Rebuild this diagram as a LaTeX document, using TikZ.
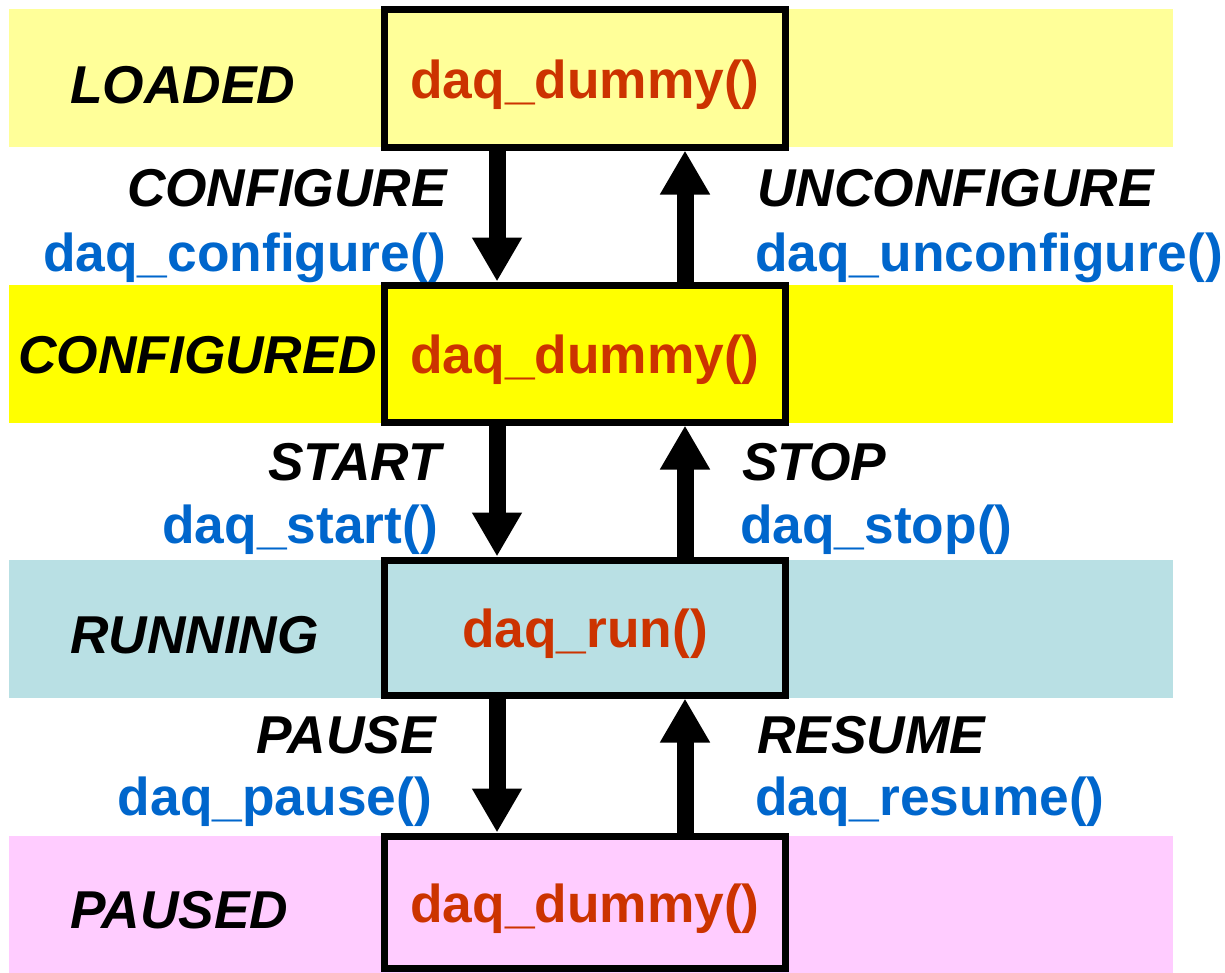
\documentclass[tikz,border=0pt]{standalone}
\usepackage{fontspec}
\setmainfont{Liberation Sans}
\usetikzlibrary{arrows.meta}
\definecolor{bandA}{HTML}{FFFF99}
\definecolor{bandB}{HTML}{FFFF00}
\definecolor{bandC}{HTML}{B9E0E4}
\definecolor{bandD}{HTML}{FFCCFF}
\definecolor{fnred}{HTML}{CC3300}
\definecolor{fnblue}{HTML}{0066CC}
\tikzset{
  big/.style={font=\fontsize{53.3}{60}\selectfont\bfseries},
  statebox/.style={draw=black, line width=7pt, minimum width=401pt, big, text=fnred, inner sep=0pt, text height=40pt, text depth=0pt},
  band/.style={inner sep=0pt, minimum width=1164pt, minimum height=138pt},
  statename/.style={font=\fontsize{53.3}{60}\selectfont\bfseries\itshape, inner sep=0pt},
  evt/.style={font=\fontsize{53.3}{60}\selectfont\bfseries\itshape, inner sep=0pt},
  fn/.style={big, text=fnblue, inner sep=0pt},
  arr/.style={line width=17pt, -{Triangle[width=47pt,length=44pt]}}
}
\begin{document}
\begin{tikzpicture}[x=1pt,y=-1pt]
\useasboundingbox (0,0) rectangle (1225,972);
% bands
\node[band, fill=bandA] (bA) at (591,78) {};
\node[band, fill=bandB] (bB) at (591,353.5) {};
\node[band, fill=bandC] (bC) at (591,629) {};
\node[band, fill=bandD, minimum height=140pt] (bD) at (591,906) {};
% boxes
\node[statebox, fill=bandA, minimum height=138pt] (s1) at (585,78) {daq\_dummy()};
\node[statebox, fill=bandB, minimum height=137pt] (s2) at (585,353.5) {daq\_dummy()};
\node[statebox, fill=bandC, minimum height=135pt] (s3) at (585,627.5) {daq\_run()};
\node[statebox, fill=bandD, minimum height=132pt] (s4) at (585,902) {daq\_dummy()};
% state names
\node[statename, anchor=west] (n1) at (70,85) {LOADED};
\node[statename, anchor=west] (n2) at (18,355) {CONFIGURED};
\node[statename, anchor=west] (n3) at (70,635) {RUNNING};
\node[statename, anchor=west] (n4) at (70,910) {PAUSED};
% arrows
\draw[arr] ([xshift=-88pt]s1.south) -- ([xshift=-88pt]s2.north);
\draw[arr] ([xshift=100pt]s2.north) -- ([xshift=100pt]s1.south);
\draw[arr] ([xshift=-88pt]s2.south) -- ([xshift=-88pt]s3.north);
\draw[arr] ([xshift=100pt]s3.north) -- ([xshift=100pt]s2.south);
\draw[arr] ([xshift=-88pt]s3.south) -- ([xshift=-88pt]s4.north);
\draw[arr] ([xshift=100pt]s4.north) -- ([xshift=100pt]s3.south);
% labels
\node[evt, anchor=east] (e1) at (447,188) {CONFIGURE};
\node[fn, anchor=east] (f1) at (446,258) {daq\_configure()};
\node[evt, anchor=west] (e2) at (757,188) {UNCONFIGURE};
\node[fn, anchor=west] (f2) at (755,258) {daq\_unconfigure()};
\node[evt, anchor=east] (e3) at (441,462) {START};
\node[fn, anchor=east] (f3) at (438,530) {daq\_start()};
\node[evt, anchor=west] (e4) at (742,462) {STOP};
\node[fn, anchor=west] (f4) at (740,530) {daq\_stop()};
\node[evt, anchor=east] (e5) at (436,735) {PAUSE};
\node[fn, anchor=east] (f5) at (432,802) {daq\_pause()};
\node[evt, anchor=west] (e6) at (757,735) {RESUME};
\node[fn, anchor=west] (f6) at (755,802) {daq\_resume()};
\end{tikzpicture}
\end{document}
